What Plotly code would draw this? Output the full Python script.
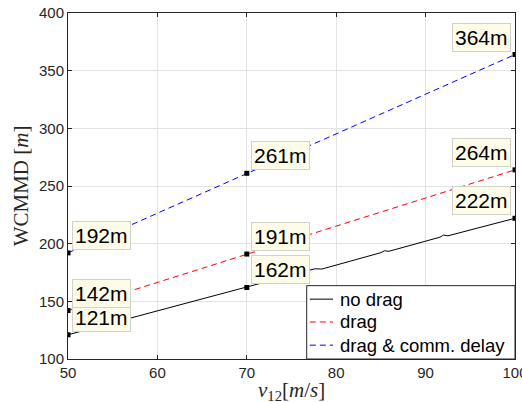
import plotly.graph_objects as go

# Speeds (m/s) and worst-case minimum mutual distances (m)
x_nodrag = [50, 70, 77.6, 78.4, 85.0, 85.4, 85.9, 91.6, 92.0, 92.5, 100]
y_nodrag = [121, 162, 178.2, 178.0, 192.2, 193.8, 193.4, 205.6, 207.4, 206.8, 222]

x_drag = [50, 70, 100]
y_drag = [142, 191, 264]

x_delay = [50, 70, 100]
y_delay = [192, 261, 364]

# Data tips
tip_x = [50, 70, 100, 50, 70, 100, 50, 70, 100]
tip_y = [121, 162, 222, 142, 191, 264, 192, 261, 364]

series_names = ["no drag", "drag", "drag &amp; comm. delay"]
x_ticks = [50, 60, 70, 80, 90, 100]
y_ticks = [100, 150, 200, 250, 300, 350, 400]

SANS = "Liberation Sans, Arial, Helvetica, sans-serif"
SERIF = "Liberation Serif, Times New Roman, serif"
AXC = "#262626"

styles = [
    dict(color="#000000", width=1),
    dict(color="#FF0000", width=1, dash="6px,4px"),
    dict(color="#0000FF", width=1, dash="6px,4px"),
]

fig = go.Figure()
for (xs, ys), name, st in zip([(x_nodrag, y_nodrag), (x_drag, y_drag), (x_delay, y_delay)],
                              series_names, styles):
    fig.add_trace(go.Scatter(x=xs, y=ys, mode="lines", name=name, line=st,
                             showlegend=False))

fig.add_trace(go.Scatter(x=tip_x, y=tip_y, mode="markers", showlegend=False,
                         marker=dict(symbol="square", size=5, color="#000000")))

xmax = max(tip_x)
for tx, ty in zip(tip_x, tip_y):
    right = tx == xmax
    fig.add_annotation(
        x=tx, y=ty, text=f"{ty}m", showarrow=False,
        xanchor="right" if right else "left", yanchor="bottom",
        xshift=-4 if right else 4, yshift=3,
        font=dict(family=SANS, size=21, color="#000000"),
        bgcolor="rgb(252,252,232)", bordercolor="rgb(210,210,200)",
        borderwidth=1, borderpad=2,
    )

# Compact legend box in the lower-right corner of the axes
leg_box = dict(x0=0.534, x1=1.0, y0=0.0, y1=0.212)
leg_rows = [0.173, 0.107, 0.040]
fig.add_shape(type="rect", xref="x domain", yref="y domain", layer="above",
              fillcolor="white", line=dict(color=AXC, width=1), **leg_box)
for yy, name, st in zip(leg_rows, series_names, styles):
    fig.add_shape(type="line", xref="x domain", yref="y domain", layer="above",
                  x0=0.541, x1=0.593, y0=yy, y1=yy, line=st)
    fig.add_annotation(xref="x domain", yref="y domain", x=0.603, y=yy,
                       text=name, showarrow=False, xanchor="left", yanchor="middle",
                       font=dict(family=SANS, size=18.5, color="#000000"))

# x-axis title placed just below the tick labels
fig.add_annotation(xref="x domain", yref="y domain", x=0.5, y=0, yanchor="top",
                   yshift=-17, showarrow=False,
                   text="<i>v</i><sub>12</sub>[<i>m</i>/<i>s</i>]",
                   font=dict(family=SERIF, size=21, color=AXC))

axis_common = dict(
    showline=True, linecolor=AXC, linewidth=1, mirror="ticks",
    ticks="inside", ticklen=4, tickcolor=AXC, tickwidth=1,
    showgrid=True, gridcolor="#E3E3E3", gridwidth=1, zeroline=False,
    tickfont=dict(family=SANS, size=15, color=AXC),
    ticklabeloverflow="allow", automargin=False,
)

fig.update_xaxes(range=[50, 100], tickvals=x_ticks, **axis_common)
fig.update_yaxes(range=[100, 400], tickvals=y_ticks, **axis_common,
                 title=dict(text="WCMMD [<i>m</i>]",
                            font=dict(family=SERIF, size=21, color=AXC), standoff=4))

fig.update_layout(
    width=522, height=402,
    margin=dict(l=68, r=7, t=13, b=43),
    paper_bgcolor="white", plot_bgcolor="white",
    showlegend=False,
)

fig.write_html("out.html")
